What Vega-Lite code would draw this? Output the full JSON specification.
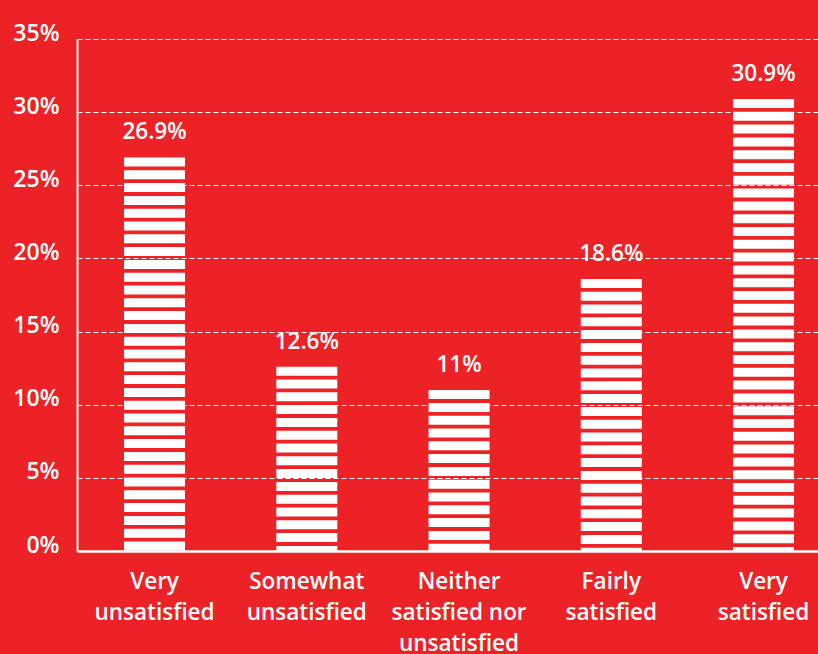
{
  "$schema": "https://vega.github.io/schema/vega-lite/v6.json",
  "width": 741,
  "height": 512,
  "autosize": {"type": "none"},
  "padding": {"left": 77, "top": 39, "right": 0, "bottom": 103},
  "background": "#ED2226",
  "config": {
    "view": {"stroke": null},
    "font": "Open Sans",
    "axis": {"labelFont": "Open Sans", "labelFontWeight": 600, "labelColor": "white"}
  },
  "data": {
    "values": [
      {"category": "Very|unsatisfied", "value": 26.9, "label": "26.9%"},
      {"category": "Somewhat|unsatisfied", "value": 12.6, "label": "12.6%"},
      {"category": "Neither|satisfied nor|unsatisfied", "value": 11, "label": "11%"},
      {"category": "Fairly|satisfied", "value": 18.6, "label": "18.6%"},
      {"category": "Very|satisfied", "value": 30.9, "label": "30.9%"}
    ]
  },
  "encoding": {
    "x": {
      "field": "category",
      "type": "nominal",
      "sort": null,
      "scale": {"paddingInner": 0.6, "paddingOuter": 0.2336, "align": 0.662},
      "axis": {
        "title": null,
        "labelAngle": 0,
        "labelFontSize": 22.5,
        "labelLineHeight": 31,
        "labelPadding": 19,
        "labelBaseline": "top",
        "ticks": false,
        "domainColor": "white",
        "domainWidth": 2.5,
        "zindex": 2,
        "labelExpr": "split(datum.value, '|')"
      }
    }
  },
  "layer": [
    {
      "mark": {"type": "rule", "color": "white", "strokeWidth": 61, "strokeCap": "butt", "strokeDash": [9, 3.8]},
      "encoding": {
        "y": {
          "field": "value",
          "type": "quantitative",
          "scale": {"domain": [0, 35], "nice": false},
          "axis": {
            "title": null,
            "values": [0, 5, 10, 15, 20, 25, 30, 35],
            "labelExpr": "datum.value + '%'",
            "labelFontSize": 23,
            "labelPadding": 18,
            "labelBaseline": "alphabetic",
            "labelOffset": 1,
            "labelFlush": false,
            "ticks": false,
            "domainColor": "white",
            "domainWidth": 2,
            "grid": true,
            "gridColor": "white",
            "gridDash": [5, 3],
            "gridWidth": 1,
            "zindex": 2
          }
        },
        "y2": {"datum": 0}
      }
    },
    {
      "mark": {"type": "text", "color": "white", "fontSize": 22.5, "fontWeight": 600, "baseline": "bottom", "dy": -13},
      "encoding": {
        "y": {"field": "value", "type": "quantitative"},
        "text": {"field": "label"}
      }
    }
  ]
}
